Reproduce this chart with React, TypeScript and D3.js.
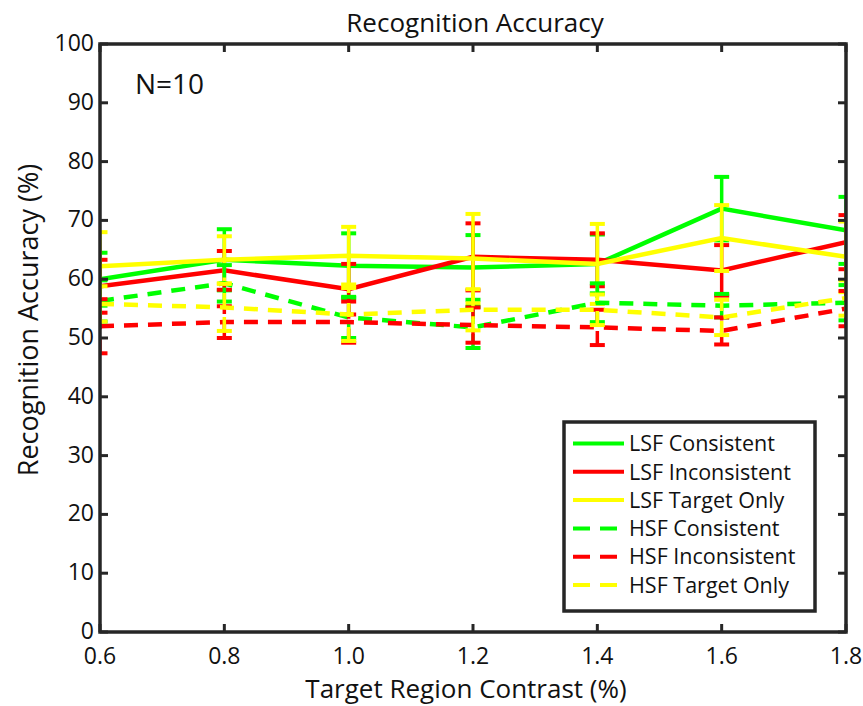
import React from 'react';
import * as d3 from 'd3';

const contrast = [0.6, 0.8, 1.0, 1.2, 1.4, 1.6, 1.8];
const xTickLabels = ['0.6', '0.8', '1.0', '1.2', '1.4', '1.6', '1.8'];
const yTickValues = [0, 10, 20, 30, 40, 50, 60, 70, 80, 90, 100];

const lsfConsistent = [60, 63.3, 62.3, 62, 62.6, 72, 68.3];
const lsfConsistentErr = [4.5, 5.2, 5.5, 5.5, 5, 5.4, 5.7];
const lsfInconsistent = [58.8, 61.5, 58.3, 63.8, 63.3, 61.5, 66.3];
const lsfInconsistentErr = [4.5, 3.3, 4.3, 5.7, 4.5, 4.3, 4.6];
const lsfTarget = [62.2, 63.3, 64, 63.5, 62.6, 67, 63.8];
const lsfTargetErr = [5.8, 4, 4.9, 7.6, 6.8, 5.6, 6];
const hsfConsistent = [56.3, 59.3, 53.5, 51.8, 56, 55.5, 56];
const hsfConsistentErr = [3.5, 3.1, 3.5, 3.5, 3.3, 2, 3];
const hsfInconsistent = [52, 52.7, 52.7, 52.2, 51.8, 51.2, 55];
const hsfInconsistentErr = [4.6, 2.7, 3.5, 3, 3, 2.3, 3];
const hsfTarget = [55.8, 55.2, 54, 54.8, 54.8, 53.5, 56.8];
const hsfTargetErr = [3, 4, 4.5, 3.5, 2.6, 3, 3];

const seriesNames = ['LSF Consistent', 'LSF Inconsistent', 'LSF Target Only', 'HSF Consistent', 'HSF Inconsistent', 'HSF Target Only'];
const seriesValues = [lsfConsistent, lsfInconsistent, lsfTarget, hsfConsistent, hsfInconsistent, hsfTarget];
const seriesErrors = [lsfConsistentErr, lsfInconsistentErr, lsfTargetErr, hsfConsistentErr, hsfInconsistentErr, hsfTargetErr];
const seriesColors = ['#00ff00', '#ff0000', '#ffff00', '#00ff00', '#ff0000', '#ffff00'];
const seriesDashed = [false, false, false, true, true, true];

const FONT = "'Open Sans', 'Noto Sans', sans-serif";
const AX = '#262626';
const TXT = '#111';

export default function App() {
  const W = 863, H = 706;
  const L = 100, R = 846, T = 44, B = 632;
  const x = d3.scaleLinear().domain([0.6, 1.8]).range([L, R]);
  const y = d3.scaleLinear().domain([0, 100]).range([B, T]);
  const line = d3.line<number>().x((_, i) => x(contrast[i])).y(d => y(d));
  const dash = '14 10';
  const capW = 7.5;

  const legX = 564, legY = 422, legW = 251, legH = 189;
  const rowY0 = 443.5, rowH = 28.3;

  return (
    <svg width={W} height={H} style={{ position: 'absolute', left: 0, top: 0, background: '#fff' }} fontFamily={FONT}>
      <defs>
        <clipPath id="plotclip">
          <rect x={L} y={T} width={R - L} height={B - T} />
        </clipPath>
      </defs>
      <rect x={0} y={0} width={W} height={H} fill="#fff" />
      <g clipPath="url(#plotclip)">
        {seriesValues.map((vals, s) => (
          <g key={s} stroke={seriesColors[s]} strokeWidth={4.5} fill="none" strokeDasharray={seriesDashed[s] ? dash : undefined}>
            {vals.map((v, i) => {
              const e = seriesErrors[s][i];
              const cx = x(contrast[i]);
              return (
                <g key={i} strokeWidth={3.5}>
                  <line x1={cx} x2={cx} y1={y(v - e)} y2={y(v + e)} />
                  <line x1={cx - capW} x2={cx + capW} y1={y(v + e)} y2={y(v + e)} strokeDasharray="none" strokeWidth={4} />
                  <line x1={cx - capW} x2={cx + capW} y1={y(v - e)} y2={y(v - e)} strokeDasharray="none" strokeWidth={4} />
                </g>
              );
            })}
            <path d={line(vals) || ''} />
          </g>
        ))}
      </g>
      {/* axes box */}
      <rect x={L} y={T} width={R - L} height={B - T} fill="none" stroke={AX} strokeWidth={3.5} />
      {yTickValues.map(t => (
        <g key={t} stroke={AX} strokeWidth={3}>
          <line x1={L} x2={L + 8} y1={y(t)} y2={y(t)} />
          <line x1={R} x2={R - 8} y1={y(t)} y2={y(t)} />
        </g>
      ))}
      {contrast.map(c => (
        <g key={c} stroke={AX} strokeWidth={3}>
          <line x1={x(c)} x2={x(c)} y1={B} y2={B - 8} />
          <line x1={x(c)} x2={x(c)} y1={T} y2={T + 8} />
        </g>
      ))}
      {yTickValues.map(t => (
        <text key={t} x={L - 6} y={y(t)} dy="0.3em" textAnchor="end" fontSize={23} fill={TXT}>{t}</text>
      ))}
      {contrast.map((c, i) => (
        <text key={c} x={x(c)} y={B + 32} textAnchor="middle" fontSize={23} fill={TXT}>{xTickLabels[i]}</text>
      ))}
      <text x={475} y={32} textAnchor="middle" fontSize={26} fill={TXT}>Recognition Accuracy</text>
      <text x={466} y={698} textAnchor="middle" fontSize={26} fill={TXT}>Target Region Contrast (%)</text>
      <text transform={`translate(38,320) rotate(-90)`} textAnchor="middle" fontSize={27} fill={TXT}>Recognition Accuracy (%)</text>
      <text x={135} y={94} fontSize={28} fill={TXT}>N=10</text>
      {/* legend */}
      <rect x={legX} y={legY} width={legW} height={legH} fill="#fff" stroke={AX} strokeWidth={3.5} />
      {seriesNames.map((n, s) => (
        <g key={n}>
          <line x1={573} x2={624} y1={rowY0 + s * rowH} y2={rowY0 + s * rowH} stroke={seriesColors[s]} strokeWidth={4}
            strokeDasharray={seriesDashed[s] ? '17 10' : undefined} />
          <text x={629} y={rowY0 + s * rowH} dy="0.36em" fontSize={21.5} fill={TXT}>{n}</text>
        </g>
      ))}
    </svg>
  );
}
